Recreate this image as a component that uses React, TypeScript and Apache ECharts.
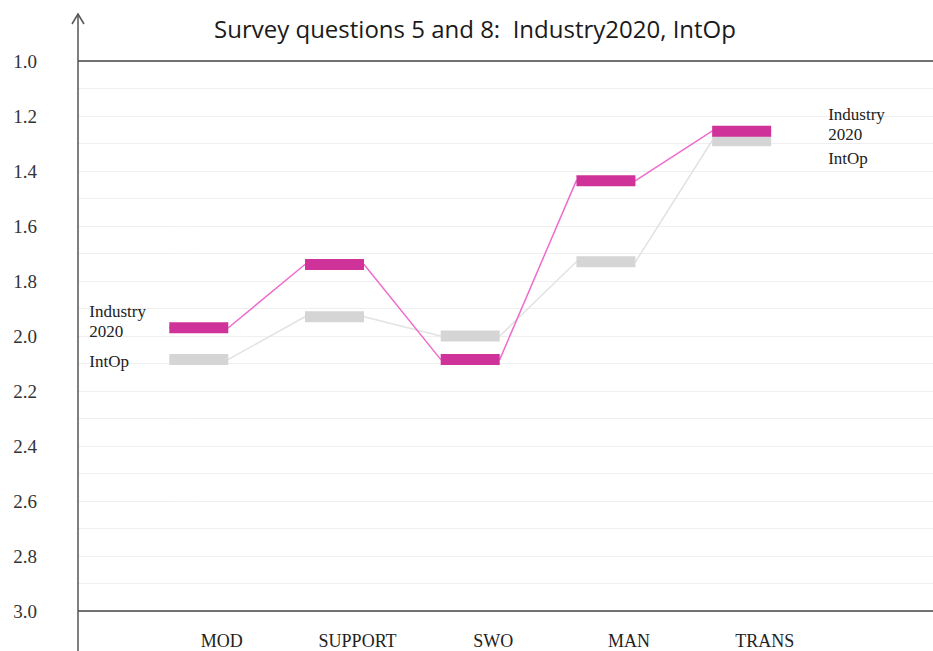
import React, { useEffect, useRef } from "react";
import * as echarts from "echarts";

const categories = ["MOD", "SUPPORT", "SWO", "MAN", "TRANS"];
const industry2020 = [1.97, 1.74, 2.085, 1.435, 1.255];
const intOp = [2.085, 1.93, 2.0, 1.73, 1.29];
const yTicks = [1.0, 1.2, 1.4, 1.6, 1.8, 2.0, 2.2, 2.4, 2.6, 2.8, 3.0];
const title = "Survey questions 5 and 8:  Industry2020, IntOp";

const HALF = 0.218; // half marker width in x-axis units
const MAGENTA = "#cf3399";
const MAGENTA_LINE = "#ef6ccd";
const GREY = "#d5d5d5";
const GREY_LINE = "#e2e2e2";
const SERIF = "Liberation Serif";

function edges(vals: number[]) {
  const out: number[][] = [];
  vals.forEach((v, i) => {
    out.push([i - HALF, v]);
    out.push([i + HALF, v]);
  });
  return out;
}

export default function App() {
  const ref = useRef<HTMLDivElement>(null);
  useEffect(() => {
    if (!ref.current) return;
    const chart = echarts.init(ref.current, undefined, { renderer: "svg" });
    const last = categories.length - 1;
    const labelStyle = {
      fontFamily: SERIF,
      fontSize: 17,
      color: "#222",
      lineHeight: 20,
      align: "left" as const,
    };
    chart.setOption({
      animation: false,
      backgroundColor: "#fff",
      title: {
        text: title,
        left: 470,
        textAlign: "center",
        top: 11,
        textStyle: {
          fontFamily: "Open Sans",
          fontSize: 24,
          fontWeight: "normal",
          color: "#1a1a1a",
        },
      },
      grid: { left: 78, right: 0, top: 61, bottom: 40, containLabel: false },
      xAxis: [
        {
          type: "value",
          min: -0.89,
          max: 5.41,
          show: false,
        },
        {
          type: "value",
          min: -1.06,
          max: 5.24,
          position: "bottom",
          axisLine: { show: false },
          axisTick: { show: false },
          splitLine: { show: false },
          axisLabel: {
            customValues: categories.map((_, i) => i),
            formatter: (v: number) => categories[Math.round(v)] ?? "",
            fontFamily: SERIF,
            fontSize: 18,
            color: "#222",
            margin: 21,
          },
        },
      ],
      yAxis: {
        type: "value",
        inverse: true,
        min: 1,
        max: 3,
        interval: 0.2,
        axisLine: { show: false },
        axisTick: { show: true, length: 28, lineStyle: { color: "#f0f0f0" } },
        minorTick: { show: true, splitNumber: 2, length: 28, lineStyle: { color: "#f0f0f0" } },
        splitLine: { show: true, lineStyle: { color: "#efefef" } },
        minorSplitLine: { show: true, lineStyle: { color: "#efefef" } },
        axisLabel: {
          formatter: (v: number) => (yTicks.some((t) => Math.abs(t - v) < 1e-6) ? v.toFixed(1) : ""),
          fontFamily: SERIF,
          fontSize: 19,
          color: "#333",
          margin: 41,
        },
      },
      graphic: [
        {
          type: "line",
          shape: { x1: 78, y1: 15, x2: 78, y2: 651 },
          style: { stroke: "#555", lineWidth: 1.5 },
          z: 10,
        },
        {
          type: "polyline",
          shape: { points: [[72, 24], [78, 14], [84, 24]] },
          style: { stroke: "#555", lineWidth: 1.5, fill: null },
          z: 10,
        },
      ],
      series: [
        {
          type: "line",
          name: "IntOp line",
          data: edges(intOp),
          symbol: "none",
          lineStyle: { color: GREY_LINE, width: 1.5 },
          z: 2,
          markLine: {
            silent: true,
            symbol: "none",
            label: { show: false },
            lineStyle: { color: "#444", width: 1.5, type: "solid" },
            data: [{ yAxis: 1 }, { yAxis: 3 }],
          },
        },
        {
          type: "line",
          name: "Industry2020 line",
          data: edges(industry2020),
          symbol: "none",
          lineStyle: { color: MAGENTA_LINE, width: 1.5 },
          z: 3,
        },
        {
          type: "scatter",
          name: "IntOp",
          symbol: "rect",
          symbolSize: [59, 11],
          itemStyle: { color: GREY, opacity: 1 },
          z: 4,
          data: intOp.map((v, i) => {
            const d: any = { value: [i, v] };
            if (i === 0) {
              d.label = { show: true, formatter: "IntOp", position: [-80, -2], ...labelStyle };
            } else if (i === last) {
              d.label = { show: true, formatter: "IntOp", position: [116, 13], ...labelStyle };
            }
            return d;
          }),
        },
        {
          type: "scatter",
          name: "Industry2020",
          symbol: "rect",
          symbolSize: [59, 11],
          itemStyle: { color: MAGENTA, opacity: 1 },
          z: 5,
          data: industry2020.map((v, i) => {
            const d: any = { value: [i, v] };
            if (i === 0) {
              d.label = { show: true, formatter: "Industry\n2020", position: [-80, -21], ...labelStyle };
            } else if (i === last) {
              d.label = { show: true, formatter: "Industry\n2020", position: [116, -21], ...labelStyle };
            }
            return d;
          }),
        },
      ],
    });
    return () => chart.dispose();
  }, []);
  return (
    <div
      ref={ref}
      style={{ position: "fixed", left: 0, top: 0, width: 933, height: 651 }}
    />
  );
}
